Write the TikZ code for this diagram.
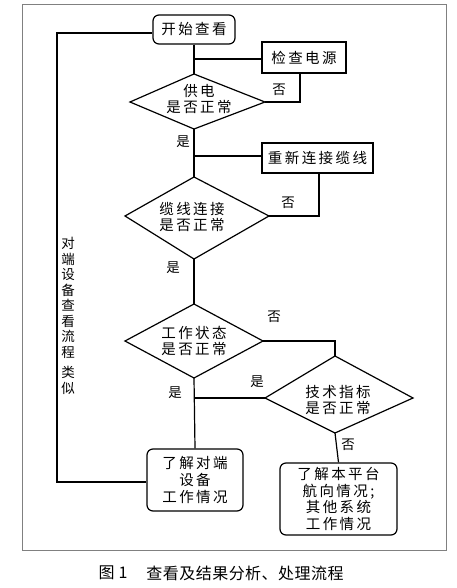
\documentclass[tikz,border=0pt]{standalone}
\usepackage{fontspec}
\newfontfamily\cjk[LetterSpace=17]{Noto Sans CJK SC}
\newfontfamily\cjkcap[LetterSpace=3]{Noto Sans CJK SC}
\begin{document}
\begin{tikzpicture}[x=1pt,y=-1pt,
  line/.style={line width=1.2pt,black},
  boxnode/.style={draw,line width=1.2pt,inner sep=0pt,align=center,
    font=\cjk\fontsize{14.5}{17}\selectfont},
  roundbox/.style={boxnode,rounded corners=6pt},
  dtext/.style={inner sep=0pt,align=center,font=\cjk\fontsize{14.5}{16.5}\selectfont},
  lbl/.style={inner sep=0pt,font=\cjk\fontsize{13.5}{15}\selectfont}]
\useasboundingbox (0,0) rectangle (456,588);
% frame
\draw[line width=0.8pt,gray] (22,4) rectangle (446,550);
% boxes
\node[roundbox,minimum width=82pt,minimum height=29pt] (start) at (194,29.5) {开始查看};
\node[boxnode,minimum width=84pt,minimum height=31pt] (power) at (304,57.5) {检查电源};
\node[boxnode,minimum width=111pt,minimum height=30pt] (recon) at (317.5,158) {重新连接缆线};
\node[roundbox,minimum width=96pt,minimum height=62pt] (peer) at (195,480) {了解对端\\设备\\工作情况};
\node[roundbox,minimum width=117pt,minimum height=72pt,font=\cjk\fontsize{14.5}{16.7}\selectfont] (plat) at (338.5,499) {了解本平台\\航向情况;\\其他系统\\工作情况};
% diamonds
\coordinate (d1n) at (194,74);  \coordinate (d1s) at (194,129);
\coordinate (d1w) at (130,102); \coordinate (d1e) at (265,102);
\coordinate (d2n) at (194,177); \coordinate (d2s) at (194,259);
\coordinate (d2w) at (125,216); \coordinate (d2e) at (269,216);
\coordinate (d3n) at (194,304); \coordinate (d3s) at (194,378);
\coordinate (d3w) at (125,341); \coordinate (d3e) at (263,341);
\coordinate (d4n) at (335,356); \coordinate (d4s) at (335,433);
\coordinate (d4w) at (265,398); \coordinate (d4e) at (413,398);
\draw[line] (d1n) -- (d1e) -- (d1s) -- (d1w) -- cycle;
\draw[line] (d2n) -- (d2e) -- (d2s) -- (d2w) -- cycle;
\draw[line] (d3n) -- (d3e) -- (d3s) -- (d3w) -- cycle;
\draw[line] (d4n) -- (d4e) -- (d4s) -- (d4w) -- cycle;
\node[dtext] (d1t) at (199,99) {供电\\是否正常};
\node[dtext] (d2t) at (192,217) {缆线连接\\是否正常};
\node[dtext] (d3t) at (194,341) {工作状态\\是否正常};
\node[dtext] (d4t) at (338,400) {技术指标\\是否正常};
% junctions
\coordinate (j1) at (194,59);
\coordinate (j2) at (194,156);
\coordinate (j3) at (194,398);
\coordinate (k1) at (300,73);
\coordinate (k2) at (319,173);
\coordinate (k3) at (335,341);
\coordinate (l1) at (57,33);
\coordinate (l2) at (57,482);
% connectors
\draw[line] (start.south) -- (d1n);
\draw[line] (j1) -- (j1 -| power.west);
\draw[line] (d1e) -- (d1e -| k1) -- (k1);
\draw[line] (d1s) -- (d2n);
\draw[line] (j2) -- (j2 -| recon.west);
\draw[line] (k2) -- (k2 |- d2e) -- (d2e);
\draw[line] (d2s) -- (d3n);
\draw[line] (d3e) -- (k3) -- (d4n);
\draw[line] (d4w) -- (j3);
\draw[line] (d3s) -- (peer.north);
\draw[line] (d4s) -- (plat.north);
\draw[line] (l2 -| peer.west) -- (l2) -- (l1) -- (l1 -| start.west);
% labels
\node[lbl] (n1) at (279,90) {否};
\node[lbl] (y1) at (183,142) {是};
\node[lbl] (n2) at (288,203) {否};
\node[lbl] (y2) at (173,268) {是};
\node[lbl] (n3) at (274,317) {否};
\node[lbl] (y3) at (257,382) {是};
\node[lbl] (y4) at (175,393) {是};
\node[lbl] (n4) at (348,445) {否};
% vertical note
\node[inner sep=0pt,align=center,font=\cjk\fontsize{13.5}{15.5}\selectfont,anchor=north] (note) at (68,237)
  {对\\端\\设\\备\\查\\看\\流\\程\\[5pt]类\\似};
% caption
\node[inner sep=0pt,font=\cjkcap\fontsize{16}{18}\selectfont] (fig) at (113,573) {图 1};
\node[inner sep=0pt,font=\cjkcap\fontsize{16}{18}\selectfont] (cap) at (245,573) {查看及结果分析、处理流程};
\end{tikzpicture}
\end{document}
